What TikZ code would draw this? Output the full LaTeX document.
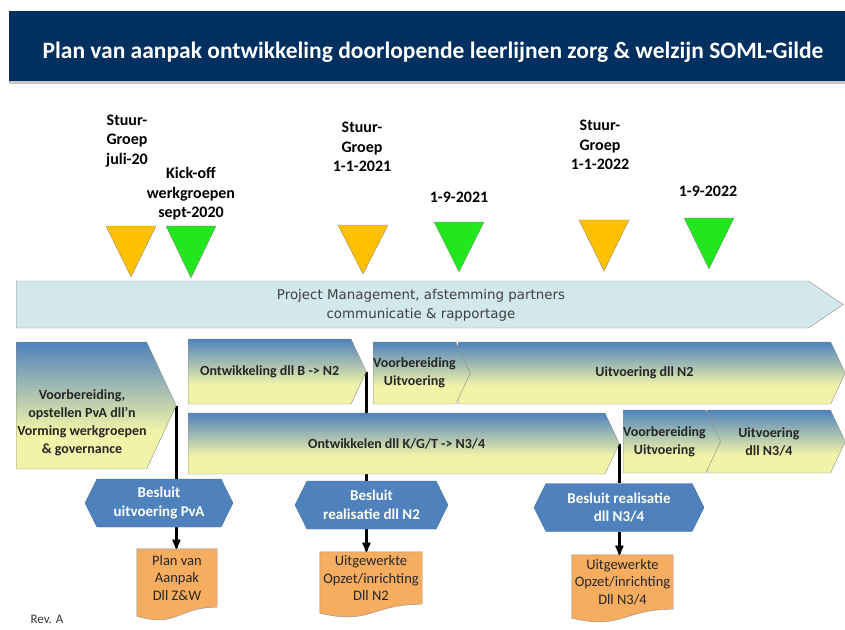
\documentclass[tikz,border=0pt]{standalone}
\usepackage{fontspec}
\setmainfont{Carlito}
\newfontfamily\pmfont{DejaVu Sans}
\usetikzlibrary{arrows, calc, shapes.symbols}

\definecolor{balk}{HTML}{00305F}
\definecolor{oranje}{HTML}{FFC000}
\definecolor{groen}{HTML}{22E61E}
\definecolor{pmvul}{HTML}{D2E8EC}
\definecolor{fblauw}{HTML}{4F81BD}
\definecolor{fgeel}{HTML}{F0F3A8}
\definecolor{hexrand}{HTML}{41719C}
\definecolor{docvul}{HTML}{F7AD5F}
\definecolor{rand}{HTML}{8C8C8C}
\definecolor{tekst}{HTML}{262626}

\pgfdeclareverticalshading{fasekleur}{100bp}{color(0bp)=(fgeel); color(40bp)=(fgeel); color(75bp)=(fblauw); color(100bp)=(fblauw)}
\pgfdeclarelayer{achter}
\pgfsetlayers{achter,main}

\begin{document}
\begin{tikzpicture}[x=1pt, y=-1pt]
	\tikzset {>=stealth',
		mijlpaal/.style={draw=rand, thin},
		mijltekst/.style={align=center, font=\fontsize{16}{19.5}\selectfont\bfseries, text=black},
		fase/.style={signal, signal to=east, signal pointer angle=130, draw=rand, shade, shading=fasekleur, inner sep=0pt, anchor=west, align=center, font=\fontsize{14}{18}\selectfont\bfseries, text=tekst},
		besluit/.style={signal, signal to=west and east, signal pointer angle=127, fill=fblauw, draw=hexrand, minimum height=48, inner sep=0pt, align=center, font=\fontsize{15}{18.5}\selectfont\bfseries, text=white},
		doc/.style={inner sep=0pt, align=center, font=\fontsize{14.5}{17.5}\selectfont, text=tekst},
		docvorm/.style={fill=docvul, draw=rand},
		lijn/.style={line width=2.2pt},
		pijl/.style={->, line width=2.2pt}
	}
	\path[use as bounding box, clip] (0,0) rectangle (845,629);

	% titel
	\fill[gray!45] (9,81) rectangle (845,84);
	\node[fill=balk, minimum width=836, minimum height=70, anchor=north west, inner sep=0pt] (balk) at (9,11) {};
	\node[text=white, font=\fontsize{23.5}{28}\selectfont\bfseries] (titel) at (433,52) {Plan van aanpak ontwikkeling doorlopende leerlijnen zorg \& welzijn SOML-Gilde};

	% mijlpalen
	\foreach \x/\t/\p/\k in {131/226/277/oranje, 191/226/278/groen, 363/225/274/oranje, 459/222/272/groen, 604/220/271/oranje, 709/218/269/groen}
		\draw[mijlpaal, fill=\k] (\x-25,\t) -- (\x+25,\t) -- (\x,\p) -- cycle;
	\node[mijltekst] (sgJuli) at (127,141) {Stuur-\\Groep\\juli-20};
	\node[mijltekst] (kickOff) at (191,194) {Kick-off\\werkgroepen\\sept-2020};
	\node[mijltekst] (sg2021) at (362,147) {Stuur-\\Groep\\1-1-2021};
	\node[mijltekst] (sep2021) at (459,197) {1-9-2021};
	\node[mijltekst] (sg2022) at (600,145) {Stuur-\\Groep\\1-1-2022};
	\node[mijltekst] (sep2022) at (708,191) {1-9-2022};

	% project management
	\node[signal, signal to=east, signal pointer angle=68, fill=pmvul, draw=rand, inner sep=0pt, minimum width=827, minimum height=47, anchor=west] (pm) at (16,304.5) {};
	\node[align=center, font=\fontsize{13.4}{19}\selectfont\pmfont, text=black!75] (pmTekst) at (421,305) {Project Management, afstemming partners\\communicatie \& rapportage};

	% fasen
	\node[fase, minimum width=160, minimum height=127] (fVoorb) at (16,405.5) {};
	\node[align=center, font=\fontsize{14}{18}\selectfont\bfseries, text=tekst] (tVoorb) at (82,423) {Voorbereiding,\\opstellen PvA dll'n\\Vorming werkgroepen\\\& governance};
	\node[fase, minimum width=178, minimum height=65] (fOntwN2) at (188,371.5) {Ontwikkeling dll B -> N2};
	\node[fase, minimum width=387, minimum height=62] (fUitvN2) at (458,373) {Uitvoering dll N2};
	\node[fase, minimum width=96, minimum height=62] (fVoorbN2) at (373,373) {Voorbereiding\\Uitvoering};
	\node[fase, minimum width=431, minimum height=61] (fOntwN34) at (188,443.5) {Ontwikkelen dll K/G/T -> N3/4};
	\node[fase, minimum width=138, minimum height=63] (fUitvN34) at (707,441.5) {Uitvoering\\dll N3/4};
	\node[fase, minimum width=96, minimum height=63] (fVoorbN34) at (623,441.5) {Voorbereiding\\Uitvoering};

	% besluiten
	\node[besluit, minimum width=148] (bPvA) at (159,503) {Besluit\\uitvoering PvA};
	\node[besluit, minimum width=153] (bN2) at (371.5,505) {Besluit\\realisatie dll N2};
	\node[besluit, minimum width=170] (bN34) at (619,507.5) {Besluit realisatie\\dll N3/4};

	% documenten
	\node[doc, minimum width=80, minimum height=58] (docPvA) at (177,578) {Plan van\\Aanpak\\Dll Z\&W};
	\node[doc, minimum width=102, minimum height=52] (docN2) at (371,578) {Uitgewerkte\\Opzet/inrichting\\Dll N2};
	\node[doc, minimum width=101, minimum height=54] (docN34) at (622.5,582) {Uitgewerkte\\Opzet/inrichting\\Dll N3/4};

	\node[anchor=north west, font=\fontsize{13}{15}\selectfont, text=black!80] (rev) at (27,612) {Rev. A};

	\begin{pgfonlayer}{achter}
		\foreach \d in {docPvA, docN2, docN34}
			\filldraw[docvorm] (\d.north west) -- (\d.north east) -- (\d.south east)
				.. controls (\d.south) and ($(\d.south)+(0,21)$) .. ($(\d.south west)+(0,9)$) -- cycle;
		\draw[lijn] (fVoorb.east) -- (fVoorb.east |- bPvA.north);
		\draw[lijn] (fOntwN2.east) -- (fOntwN2.east |- bN2.north);
		\draw[lijn] (fOntwN34.east) -- (fOntwN34.east |- bN34.north);
		\draw[pijl] (fVoorb.east |- bPvA.south) -- (fVoorb.east |- docPvA.north);
		\draw[pijl] (fOntwN2.east |- bN2.south) -- (fOntwN2.east |- docN2.north);
		\draw[pijl] (fOntwN34.east |- bN34.south) -- (fOntwN34.east |- docN34.north);
	\end{pgfonlayer}
\end{tikzpicture}
\end{document}
